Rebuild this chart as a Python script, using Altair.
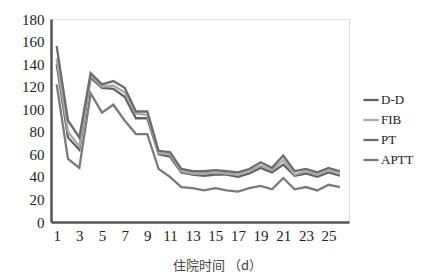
import altair as alt
import pandas as pd

days = list(range(1, 27))
dd = [140, 75, 64, 128, 119, 118, 111, 92, 92, 60, 58, 44, 42, 41, 42, 42, 40, 43, 48, 44, 51, 41, 43, 40, 44, 41]
fib = [145, 80, 67, 130, 120, 121, 115, 96, 95, 61, 60, 45, 43, 43, 44, 43, 42, 45, 50, 46, 55, 42, 45, 42, 46, 43]
pt = [156, 90, 75, 132, 122, 125, 119, 98, 98, 63, 62, 47, 45, 45, 46, 45, 44, 47, 53, 48, 59, 45, 47, 44, 48, 45]
aptt = [122, 56, 48, 114, 97, 104, 90, 78, 78, 47, 40, 31, 30, 28, 30, 28, 27, 30, 32, 29, 39, 29, 31, 28, 33, 31]
series_names = ["D-D", "FIB", "PT", "APTT"]
series_colors = ["#626262", "#a9a9a9", "#6c6c6c", "#7a7a7a"]
x_ticks = list(range(1, 27, 2))
y_ticks = list(range(0, 181, 20))

rows = []
for name, vals in zip(series_names, [dd, fib, pt, aptt]):
    for d, v in zip(days, vals):
        rows.append({"day": d, "value": v, "series": name})
df = pd.DataFrame(rows)

chart = alt.Chart(df).mark_line(strokeWidth=2.3).encode(
    x=alt.X("day:Q", scale=alt.Scale(domain=[0.5, 26.8], nice=False, zero=False),
            axis=alt.Axis(values=x_ticks, title="住院时间 （d）", grid=False, ticks=False,
                          labelFont="Liberation Serif", labelFontSize=15, labelColor="#222",
                          labelPadding=6, domainColor="#555", domainWidth=2.5,
                          titleFont="Noto Sans CJK SC", titleFontSize=13, titleFontWeight="normal",
                          titleColor="#444", titleX=166, titleY=43, titleAlign="center",
                          titleBaseline="middle")),
    y=alt.Y("value:Q", scale=alt.Scale(domain=[0, 180], nice=False),
            axis=alt.Axis(values=y_ticks, title=None, grid=False, ticks=False,
                          labelFont="Liberation Serif", labelFontSize=15, labelColor="#222",
                          labelPadding=7, domainColor="#555", domainWidth=2.5)),
    color=alt.Color("series:N", sort=series_names,
                    scale=alt.Scale(domain=series_names, range=series_colors),
                    legend=alt.Legend(title=None, orient="none", legendX=311, legendY=72,
                                      symbolType="stroke", symbolSize=230, symbolStrokeWidth=2.3,
                                      labelFont="Liberation Serif", labelFontSize=13,
                                      labelColor="#222", labelOffset=1, rowPadding=4)),
    order=alt.Order("series:N"),
).properties(
    width=298, height=203,
    autosize=alt.AutoSizeParams(type="none"),
    padding={"left": 51, "top": 19, "right": 83, "bottom": 57},
).configure_view(stroke=None).configure(background="white")

chart.save("out.html", embed_options={"renderer": "svg", "actions": False})
